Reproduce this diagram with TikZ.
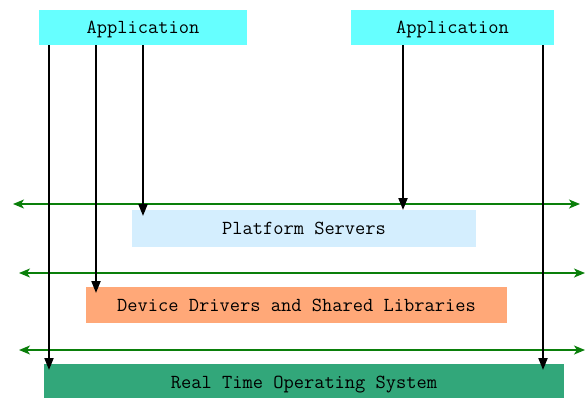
\documentclass[tikz,border=0pt]{standalone}
\usetikzlibrary{arrows.meta}
\definecolor{appcyan}{HTML}{66FFFF}
\definecolor{psblue}{HTML}{D4EEFE}
\definecolor{ddorange}{HTML}{FFA878}
\definecolor{osgreen}{HTML}{32A77A}
\definecolor{busgreen}{HTML}{0A7F0A}
\begin{document}
\begin{tikzpicture}[x=1pt,y=-1pt,
  layer/.style={inner sep=0pt, outer sep=0pt, text depth=0pt, font=\fontsize{19.9}{24}\selectfont\ttfamily},
  call/.style={line width=2pt, -{Triangle[length=12pt,width=9pt]}},
  bus/.style={busgreen, line width=1.6pt, {Stealth[length=11pt,width=9pt,inset=3pt]}-{Stealth[length=11pt,width=9pt,inset=3pt]}}]
\useasboundingbox (0,0) rectangle (588,397);
% boxes
\node[layer, fill=appcyan, minimum width=208pt, minimum height=35pt] (app1) at (143,27.5) {Application};
\node[layer, fill=appcyan, minimum width=203pt, minimum height=35pt] (app2) at (452.5,27.5) {Application};
\node[layer, fill=psblue, minimum width=344pt, minimum height=37pt] (ps) at (304,228.5) {Platform Servers};
\node[layer, fill=ddorange, minimum width=421pt, minimum height=36pt] (dd) at (296.5,305) {Device Drivers and Shared Libraries};
\node[layer, fill=osgreen, minimum width=520pt, minimum height=36pt] (os) at (304,382) {Real Time Operating System};
% bus end points
\coordinate (b1l) at (13,204); \coordinate (b1r) at (580,204);
\coordinate (b2l) at (19,273); \coordinate (b2r) at (585,273);
\coordinate (b3l) at (19,350); \coordinate (b3r) at (585,350);
\draw[bus] (b1l) -- (b1r);
\draw[bus] (b2l) -- (b2r);
\draw[bus] (b3l) -- (b3r);
% calls
\draw[call] (app1.south -| 49,0) -- ([yshift=-6pt]os.north -| 49,0);
\draw[call] (app1.south -| 96,0) -- ([yshift=-6pt]dd.north -| 96,0);
\draw[call] (app1.south -| 143,0) -- ([yshift=-6pt]ps.north -| 143,0);
\draw[call] (app2.south -| 403,0) -- (ps.north -| 403,0);
\draw[call] (app2.south -| 543,0) -- ([yshift=-6pt]os.north -| 543,0);
\end{tikzpicture}
\end{document}
